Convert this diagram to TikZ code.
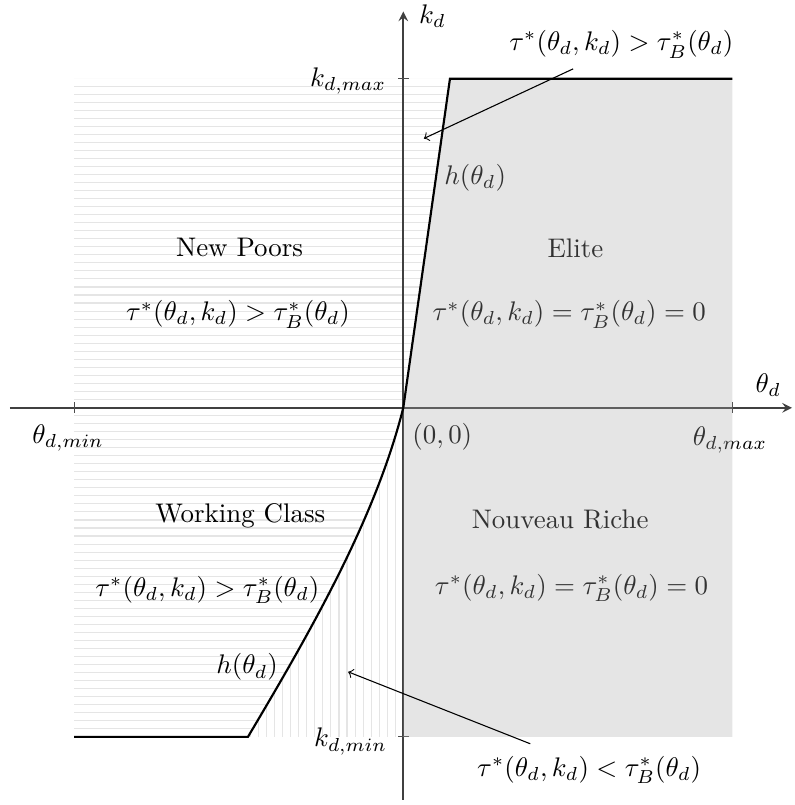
\documentclass[tikz,border=0pt]{standalone}
\usepackage{amsmath}
\usepackage{amssymb}
\usepackage{tikz}
\usetikzlibrary{arrows,calc}

\begin{document}
\begin{tikzpicture}[
    >=stealth,
    axis/.style={->, semithick, black!75},
    tickmark/.style={black!70},
    hatch/.style={black!10, line width=0.4pt},
    bound/.style={thick, black},
    region/.style={fill=black!34, fill opacity=0.3},
    note/.style={-to, black}
]
    \useasboundingbox (-5.27,-5.19) rectangle (5.11,5.33);
    % horizontal hatching left of h
    \begin{scope}
        \clip (-4.3,4.3) -- (0.61,4.3) -- (0,0) .. controls (-0.36,-1.43) and (-1.18,-2.87) .. (-2.03,-4.3) -- (-4.3,-4.3) -- cycle;
        \foreach \i in {0,...,82}
            \draw[hatch] (-4.3,-4.3+0.105*\i) -- ++(5,0);
    \end{scope}
    % vertical hatching between h and the axis
    \begin{scope}
        \clip (0,0) .. controls (-0.36,-1.43) and (-1.18,-2.87) .. (-2.03,-4.3) -- (0,-4.3) -- cycle;
        \foreach \i in {1,...,20}
            \draw[hatch] (-0.105*\i,0) -- ++(0,-4.3);
    \end{scope}
    % axes
    \coordinate (xlo) at (-5.14,0);
    \coordinate (xhi) at (5.08,0);
    \coordinate (ylo) at (0,-5.12);
    \coordinate (yhi) at (0,5.18);
    \draw[axis] (xlo) -- (xhi);
    \draw[axis] (ylo) -- (yhi);
    \foreach \v in {-4.3,4.3} {
        \draw[tickmark] (\v,0.07) -- (\v,-0.07);
        \draw[tickmark] (0.07,\v) -- (-0.07,\v);
    }
    \node (kd) at (0.38,5.12) {$k_d$};
    \node (thd) at (4.77,0.30) {$\theta_d$};
    \node (kmax) at (-0.72,4.27) {$k_{d,max}$};
    \node (kmin) at (-0.69,-4.36) {$k_{d,min}$};
    \node (thmin) at (-4.38,-0.39) {$\theta_{d,min}$};
    \node (thmax) at (4.27,-0.42) {$\theta_{d,max}$};
    \node (orig) at (0.51,-0.38) {$(0,0)$};
    % regions
    \node (poor) at (-2.14,2.09) {New Poors};
    \node (elite) at (2.25,2.09) {Elite};
    \node (work) at (-2.13,-1.41) {Working Class};
    \node (rich) at (2.05,-1.46) {Nouveau Riche};
    \node (poortax) at (-2.16,1.22) {$\tau^*(\theta_d,k_d) > \tau_B^*(\theta_d)$};
    \node (elitetax) at (2.17,1.22) {$\tau^*(\theta_d,k_d) = \tau_B^*(\theta_d) = 0$};
    \node (worktax) at (-2.56,-2.38) {$\tau^*(\theta_d,k_d) > \tau_B^*(\theta_d)$};
    \node (richtax) at (2.2,-2.35) {$\tau^*(\theta_d,k_d) = \tau_B^*(\theta_d) = 0$};
    \node (hup) at (0.94,3.01) {$h(\theta_d)$};
    \node (hlow) at (-2.04,-3.39) {$h(\theta_d)$};
    \node (uptax) at (2.85,4.75) {$\tau^*(\theta_d,k_d) > \tau_B^*(\theta_d)$};
    \node (lowtax) at (2.43,-4.73) {$\tau^*(\theta_d,k_d) < \tau_B^*(\theta_d)$};
    \fill[region] (0,0) -- (0.61,4.3) -- (4.3,4.3) -- (4.3,-4.3) -- (0,-4.3) -- cycle;
    % boundary h
    \draw[bound] (-4.3,-4.3) -- (-2.03,-4.3) .. controls (-1.18,-2.87) and (-0.36,-1.43) .. (0,0) -- (0.61,4.3) -- (4.3,4.3);
    % pointers
    \coordinate (upfrom) at (2.22,4.43);
    \coordinate (upto) at (0.27,3.52);
    \coordinate (lowfrom) at (1.66,-4.39);
    \coordinate (lowto) at (-0.72,-3.45);
    \draw[note] (upfrom) -- (upto);
    \draw[note] (lowfrom) -- (lowto);
\end{tikzpicture}
\end{document}
